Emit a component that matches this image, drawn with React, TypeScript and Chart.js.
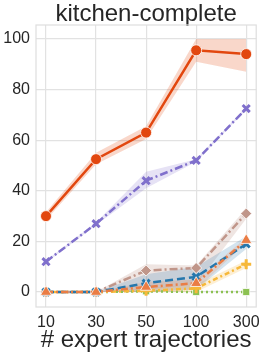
import React, { useEffect, useRef } from "react";
import { Chart, registerables } from "chart.js";

Chart.register(...registerables);

const xLabels = ["10", "30", "50", "100", "300"];

const redMean = [30, 52.5, 63, 95.5, 94];
const redLow = [28.5, 50.5, 60.5, 91, 87];
const redHigh = [31.5, 55, 65.5, 100, 100];

const purpleMean = [12, 27, 44, 52, 72.5];
const purpleLow = [11.5, 26.5, 41, 51.5, 72];
const purpleHigh = [12.5, 27.5, 47.5, 52.5, 73];

const brownMean = [0, 0, 8.5, 9.5, 31];
const brownLow = [0, 0, 1, 3, 29];
const brownHigh = [0, 0, 11, 10.5, 33];

const blueMean = [0, 0, 3.5, 6, 19];
const blueLow = [0, 0, 0, 1, 17];
const blueHigh = [0, 0, 7, 10, 22];

const orangeMean = [0, 0, 2, 3.5, 20.5];
const orangeLow = [0, 0, 0, 1, 19.5];
const orangeHigh = [0, 0, 4, 5, 21.5];

const yellowMean = [0, 0, 0.5, 1.5, 11];
const yellowLow = [0, 0, 0, 0, 9.5];
const yellowHigh = [0, 0, 1.5, 3, 12.5];

const greenMean = [0, 0, 0.3, 0, 0];
const greenLow = [0, 0, 0, 0, 0];
const greenHigh = [0, 0, 0.8, 0, 0];

const yTicks = [0, 20, 40, 60, 80, 100];

const FONT = "'Liberation Sans', Arial, sans-serif";
const TEXT = "#262626";

function pts(arr: number[]) {
  return arr.map((y, i) => ({ x: i, y }));
}

type S = {
  mean: number[];
  low: number[];
  high: number[];
  color: string;
  band: string;
  dash: number[];
  style: string;
  radius: number;
  filled: boolean;
};

const series: S[] = [
  { mean: redMean, low: redLow, high: redHigh, color: "#e2470f", band: "rgba(226,71,15,0.22)", dash: [], style: "circle", radius: 5.5, filled: true },
  { mean: orangeMean, low: orangeLow, high: orangeHigh, color: "#ea7d45", band: "rgba(234,125,69,0.2)", dash: [7, 3, 2, 3], style: "triangle", radius: 6.5, filled: true },
  { mean: blueMean, low: blueLow, high: blueHigh, color: "#2677ad", band: "rgba(38,119,173,0.2)", dash: [8, 4], style: "crossRot", radius: 5, filled: false },
  { mean: brownMean, low: brownLow, high: brownHigh, color: "#c0968a", band: "rgba(192,150,138,0.25)", dash: [8, 3, 2, 3], style: "rectRot", radius: 5.5, filled: true },
  { mean: yellowMean, low: yellowLow, high: yellowHigh, color: "#f6b83a", band: "rgba(246,184,58,0.22)", dash: [5, 3, 2, 3], style: "cross", radius: 5, filled: false },
  { mean: purpleMean, low: purpleLow, high: purpleHigh, color: "#8070cc", band: "rgba(128,112,204,0.2)", dash: [8, 3, 2, 3], style: "crossRot", radius: 5, filled: false },
  { mean: greenMean, low: greenLow, high: greenHigh, color: "#8cc152", band: "rgba(140,193,82,0.2)", dash: [2, 3], style: "rect", radius: 5, filled: true },
];

const boxPlugin = {
  id: "box",
  beforeDatasetsDraw(chart: any) {
    const { ctx, chartArea } = chart;
    ctx.save();
    ctx.strokeStyle = "#dedede";
    ctx.lineWidth = 1.2;
    ctx.strokeRect(chartArea.left, chartArea.top, chartArea.right - chartArea.left, chartArea.bottom - chartArea.top);
    ctx.restore();
  },
};

export default function App() {
  const ref = useRef<HTMLCanvasElement | null>(null);
  useEffect(() => {
    if (!ref.current) return;
    const datasets: any[] = [];
    series.forEach((s) => {
      datasets.push({
        data: pts(s.mean),
        borderColor: s.color,
        backgroundColor: s.color,
        borderWidth: 2.5,
        borderDash: s.dash,
        pointStyle: s.style,
        pointRadius: s.radius,
        pointBackgroundColor: s.color,
        pointBorderColor: s.filled ? "#ffffff" : s.color,
        pointBorderWidth: s.filled ? 0.8 : 3,
        fill: false,
        tension: 0,
      });
    });
    series.forEach((s) => {
      const idx = datasets.length;
      datasets.push({
        data: pts(s.high),
        borderWidth: 0,
        pointRadius: 0,
        backgroundColor: s.band,
        borderColor: "rgba(0,0,0,0)",
        fill: idx + 1,
        tension: 0,
      });
      datasets.push({
        data: pts(s.low),
        borderWidth: 0,
        pointRadius: 0,
        borderColor: "rgba(0,0,0,0)",
        fill: false,
        tension: 0,
      });
    });

    const chart = new Chart(ref.current, {
      type: "line",
      data: { datasets },
      options: {
        animation: false,
        responsive: true,
        maintainAspectRatio: false,
        layout: { padding: { left: 0, right: 7, top: 0, bottom: 0 } },
        plugins: {
          legend: { display: false },
          tooltip: { enabled: false },
          title: { display: false },
        },
        scales: {
          x: {
            type: "linear",
            min: -0.2,
            max: 4.2,
            afterBuildTicks: (scale: any) => {
              scale.ticks = xLabels.map((_, i) => ({ value: i }));
            },
            afterFit: (scale: any) => {
              scale.height = 50;
            },
            ticks: {
              color: TEXT,
              font: { family: FONT, size: 16 },
              padding: 6,
              maxRotation: 0,
              autoSkip: false,
              callback: (v: any) => xLabels[Math.round(Number(v))] ?? "",
            },
            grid: { color: "#e2e2e2", lineWidth: 1.2, drawTicks: false },
            border: { display: false },
            title: {
              display: true,
              text: "# expert trajectories",
              color: TEXT,
              font: { family: FONT, size: 24 },
              padding: { top: 0, bottom: 2 },
            },
          },
          xTop: {
            type: "linear",
            position: "top",
            min: -0.2,
            max: 4.2,
            afterBuildTicks: (scale: any) => {
              scale.ticks = [];
            },
            afterFit: (scale: any) => {
              scale.height = 25;
            },
            ticks: { display: false },
            grid: { display: false, drawTicks: false },
            border: { display: false },
            title: {
              display: true,
              text: "kitchen-complete",
              color: TEXT,
              font: { family: FONT, size: 24, lineHeight: 1 },
              padding: { top: 2, bottom: 0 },
            },
          },
          y: {
            type: "linear",
            min: -5.9,
            max: 105.5,
            afterBuildTicks: (scale: any) => {
              scale.ticks = yTicks.map((v) => ({ value: v }));
            },
            afterFit: (scale: any) => {
              scale.width = 36;
            },
            ticks: {
              color: TEXT,
              font: { family: FONT, size: 16 },
              padding: 6,
            },
            grid: { color: "#e2e2e2", lineWidth: 1.2, drawTicks: false },
            border: { display: false },
          },
        },
      },
      plugins: [boxPlugin],
    });
    return () => chart.destroy();
  }, []);

  return (
    <div style={{ position: "fixed", left: 0, top: 0, width: 266, height: 357, background: "#fff" }}>
      <canvas ref={ref} />
    </div>
  );
}
